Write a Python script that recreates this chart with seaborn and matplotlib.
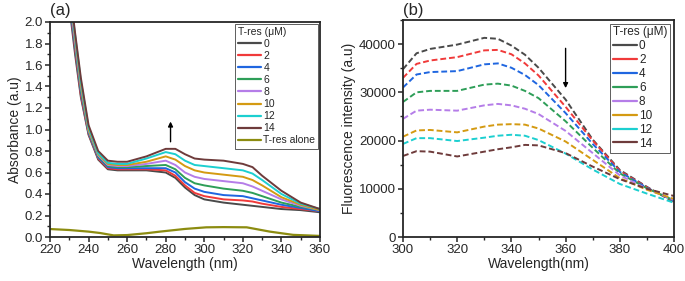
import numpy as np
import pandas as pd
import matplotlib
matplotlib.use('Agg')
import matplotlib.pyplot as plt
from matplotlib.lines import Line2D
import seaborn as sns

# concentrações de T-res (uM)
conc = ['0', '2', '4', '6', '8', '10', '12', '14']
cores = ['#4a4a4a', '#f03a3a', '#1f66e0', '#2e9e58', '#b57de8', '#d49a12', '#1ccfd0', '#6e3b3b']
cor_alone = '#8c8c10'

# (a) absorbância
wl_a = [230, 233, 236, 240, 245, 250, 255, 260, 270, 280, 285, 290, 295, 300, 310, 320, 325, 330, 340, 350, 360]
abs_0 = [2.15, 1.70, 1.30, 0.95, 0.72, 0.63, 0.62, 0.62, 0.62, 0.60, 0.55, 0.46, 0.39, 0.35, 0.32, 0.30, 0.29, 0.28, 0.26, 0.25, 0.23]
abs_2 = [2.20, 1.75, 1.32, 0.96, 0.73, 0.64, 0.63, 0.63, 0.63, 0.62, 0.57, 0.48, 0.41, 0.38, 0.35, 0.34, 0.33, 0.31, 0.28, 0.26, 0.24]
abs_4 = [2.20, 1.78, 1.35, 0.97, 0.74, 0.65, 0.64, 0.64, 0.64, 0.64, 0.60, 0.51, 0.45, 0.42, 0.39, 0.38, 0.36, 0.34, 0.30, 0.27, 0.24]
abs_6 = [2.25, 1.80, 1.37, 0.98, 0.75, 0.66, 0.65, 0.65, 0.66, 0.67, 0.63, 0.55, 0.50, 0.48, 0.45, 0.43, 0.41, 0.38, 0.32, 0.28, 0.25]
abs_8 = [2.25, 1.82, 1.40, 0.99, 0.76, 0.67, 0.66, 0.66, 0.68, 0.71, 0.67, 0.60, 0.56, 0.54, 0.52, 0.50, 0.47, 0.43, 0.35, 0.29, 0.25]
abs_10 = [2.30, 1.85, 1.42, 1.00, 0.77, 0.68, 0.67, 0.67, 0.70, 0.75, 0.72, 0.66, 0.62, 0.60, 0.58, 0.56, 0.53, 0.48, 0.37, 0.30, 0.25]
abs_12 = [2.30, 1.88, 1.45, 1.02, 0.78, 0.69, 0.68, 0.68, 0.73, 0.79, 0.77, 0.71, 0.67, 0.66, 0.64, 0.62, 0.59, 0.53, 0.40, 0.31, 0.26]
abs_14 = [2.35, 1.90, 1.48, 1.04, 0.80, 0.71, 0.70, 0.70, 0.75, 0.82, 0.82, 0.77, 0.73, 0.72, 0.71, 0.68, 0.65, 0.57, 0.43, 0.32, 0.26]

wl_alone = [220, 230, 240, 246, 253, 260, 270, 277, 290, 301, 310, 322, 334, 346, 360]
abs_alone = [0.074, 0.065, 0.05, 0.037, 0.015, 0.018, 0.035, 0.05, 0.075, 0.09, 0.092, 0.09, 0.05, 0.02, 0.01]

# (b) fluorescência
wl_b = [300, 305, 310, 320, 330, 335, 340, 345, 350, 360, 370, 380, 390, 400]
fl_0 = [34800, 38100, 39000, 39900, 41300, 41100, 39700, 37800, 35100, 28500, 20200, 13900, 10400, 7200]
fl_2 = [33000, 35900, 36600, 37300, 38700, 38800, 37900, 36000, 33500, 27000, 20000, 13700, 10300, 7400]
fl_4 = [31000, 33700, 34200, 34400, 35800, 36000, 35100, 33600, 31500, 25700, 19300, 13500, 10200, 7500]
fl_6 = [28000, 30000, 30300, 30300, 31600, 31800, 31400, 30300, 28800, 24000, 18500, 13200, 10100, 7600]
fl_8 = [24500, 26200, 26400, 26200, 27300, 27600, 27300, 26600, 25500, 22000, 17400, 12800, 10000, 7700]
fl_10 = [20800, 22100, 22200, 21700, 22900, 23300, 23400, 23300, 22500, 19800, 16000, 12200, 9800, 7900]
fl_12 = [19300, 20500, 20500, 19900, 20600, 21000, 21200, 21000, 20100, 17300, 14000, 11000, 9000, 7100]
fl_14 = [16800, 17800, 17700, 16700, 17700, 18200, 18600, 19100, 19000, 17400, 14600, 12000, 10000, 8500]

series_a = [abs_0, abs_2, abs_4, abs_6, abs_8, abs_10, abs_12, abs_14]
series_b = [fl_0, fl_2, fl_4, fl_6, fl_8, fl_10, fl_12, fl_14]

# dataframes em formato longo
df_a = pd.concat([pd.DataFrame({'wl': wl_a, 'val': s, 'conc': c}) for c, s in zip(conc, series_a)])
df_b = pd.concat([pd.DataFrame({'wl': wl_b, 'val': s, 'conc': c}) for c, s in zip(conc, series_b)])
paleta = dict(zip(conc, cores))

sns.set_style('ticks')
plt.rcParams['font.family'] = ['Liberation Sans', 'DejaVu Sans']
plt.rcParams['axes.linewidth'] = 1.3

fig = plt.figure(figsize=(6.85, 2.81), dpi=100)
ax1 = fig.add_axes([50/685, 44/281, 270/685, 215/281])
ax2 = fig.add_axes([403/685, 44/281, 271/685, 217/281])

# painel (a)
sns.lineplot(data=df_a, x='wl', y='val', hue='conc', palette=paleta, ax=ax1, linewidth=1.4, legend=False, sort=False)
sns.lineplot(x=wl_alone, y=abs_alone, color=cor_alone, ax=ax1, linewidth=1.6)
ax1.set_xlim(220, 360)
ax1.set_ylim(0, 2.0)
ax1.set_xticks(np.arange(220, 361, 20))
ax1.set_yticks(np.arange(0, 2.01, 0.2))
ax1.set_yticklabels([f'{v:.1f}' for v in np.arange(0, 2.01, 0.2)])
ax1.set_xticks(np.arange(230, 360, 20), minor=True)
ax1.set_yticks(np.arange(0.1, 2.0, 0.2), minor=True)
ax1.set_xlabel('Wavelength (nm)', fontsize=10, labelpad=1)
ax1.set_ylabel('Absorbance (a.u)', fontsize=10, labelpad=2)
ax1.annotate('', xy=(282.5, 1.10), xytext=(282.5, 0.86),
             arrowprops=dict(arrowstyle='-|>', color='black', lw=1, mutation_scale=7))
ax1.text(0.0, 1.02, '(a)', transform=ax1.transAxes, fontsize=12, ha='left', va='bottom')

hand_a = [Line2D([], [], color=c, lw=1.6) for c in cores] + [Line2D([], [], color=cor_alone, lw=1.6)]
lab_a = conc + ['T-res alone']
leg = ax1.legend(hand_a, lab_a, title='T-res (\u03bcM)', loc='upper right', fontsize=7.5, title_fontsize=7.5,
                 handlelength=2.2, handletextpad=0.2, labelspacing=0.2, borderpad=0.3,
                 fancybox=False, framealpha=1, edgecolor='#444444', borderaxespad=0.15)
leg._legend_box.align = 'left'
leg.get_frame().set_linewidth(0.6)

# painel (b)
sns.lineplot(data=df_b, x='wl', y='val', hue='conc', palette=paleta, ax=ax2, linewidth=1.4, legend=False,
             sort=False)
for l in ax2.get_lines():
    l.set_dashes([3, 1.5])
ax2.set_xlim(300, 400)
ax2.set_ylim(0, 45000)
ax2.set_xticks(np.arange(300, 401, 20))
ax2.set_yticks(np.arange(0, 40001, 10000))
ax2.set_xticks(np.arange(310, 400, 20), minor=True)
ax2.set_yticks(np.arange(5000, 45001, 10000), minor=True)
ax2.set_xlabel('Wavelength(nm)', fontsize=10, labelpad=1)
ax2.set_ylabel('Fluorescence intensity (a.u)', fontsize=10, labelpad=2)
ax2.annotate('', xy=(360, 30300), xytext=(360, 39700),
             arrowprops=dict(arrowstyle='-|>', color='black', lw=1, mutation_scale=7))
ax2.text(0.0, 1.01, '(b)', transform=ax2.transAxes, fontsize=12, ha='left', va='bottom')

hand_b = [Line2D([], [], color=c, lw=1.6) for c in cores]
leg2 = ax2.legend(hand_b, conc, title='T-res (\u03bcM)', loc='upper right', fontsize=8.5, title_fontsize=8.5,
                  handlelength=2.0, handletextpad=0.2, labelspacing=0.16, borderpad=0.25,
                  fancybox=False, framealpha=1, edgecolor='#444444', borderaxespad=0.3)
leg2._legend_box.align = 'left'
leg2.get_frame().set_linewidth(0.6)

for ax in (ax1, ax2):
    ax.tick_params(which='major', length=3.5, width=1.1, labelsize=9.5, pad=1.5)
    ax.tick_params(which='minor', length=2, width=1)
    for s in ax.spines.values():
        s.set_visible(True)

fig.savefig('out.png', dpi=100)
